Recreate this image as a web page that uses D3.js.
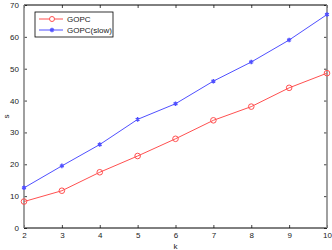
<!DOCTYPE html>
<html>
<head>
<meta charset="utf-8">
<script src="https://cdn.jsdelivr.net/npm/d3@7"></script>
<style>
  body { margin: 0; background: #fff; }
  text { font-family: "Liberation Sans", Arial, sans-serif; }
</style>
</head>
<body>
<div id="chart"></div>
<script>
// data
var kValues = [2, 3, 4, 5, 6, 7, 8, 9, 10];
var gopc = [8.3, 11.7, 17.5, 22.6, 28.0, 33.8, 38.1, 44.0, 48.6];
var gopcSlow = [12.6, 19.5, 26.2, 34.1, 39.0, 46.1, 52.1, 59.0, 67.0];
var xTicks = [2, 3, 4, 5, 6, 7, 8, 9, 10];
var yTicks = [0, 10, 20, 30, 40, 50, 60, 70];

var svgWidth = 332;
var svgHeight = 250;
var margin = {top: 5, right: 5, bottom: 22, left: 24};
var width = svgWidth - margin.left - margin.right;
var height = svgHeight - margin.top - margin.bottom;

var svg = d3.select("#chart")
  .append("svg")
  .attr("width", svgWidth)
  .attr("height", svgHeight);

var chartGroup = svg.append("g")
  .attr("transform", `translate(${margin.left}, ${margin.top})`);

var xScale = d3.scaleLinear().domain([2, 10]).range([0, width]);
var yScale = d3.scaleLinear().domain([0, 70]).range([height, 0]);

// axes with inward ticks
function styleAxis(g) {
  g.select(".domain").remove();
  g.selectAll("line").attr("stroke", "#444");
  g.selectAll("text").attr("font-size", "8px").attr("fill", "#222");
}

chartGroup.append("g")
  .attr("transform", `translate(0, ${height})`)
  .call(d3.axisBottom(xScale).tickValues(xTicks).tickSize(-3).tickPadding(4))
  .call(styleAxis);

chartGroup.append("g")
  .call(d3.axisTop(xScale).tickValues(xTicks).tickSize(-3).tickFormat(""))
  .call(styleAxis);

chartGroup.append("g")
  .call(d3.axisLeft(yScale).tickValues(yTicks).tickSize(-3).tickPadding(5))
  .call(styleAxis);

chartGroup.append("g")
  .attr("transform", `translate(${width}, 0)`)
  .call(d3.axisRight(yScale).tickValues(yTicks).tickSize(-3).tickFormat(""))
  .call(styleAxis);

// box
chartGroup.append("line").attr("x1", 0).attr("x2", width).attr("y1", 0).attr("y2", 0)
  .attr("stroke", "#000").attr("stroke-width", 1);
chartGroup.append("line").attr("x1", 0).attr("x2", width).attr("y1", height).attr("y2", height)
  .attr("stroke", "#000").attr("stroke-width", 1);
chartGroup.append("line").attr("x1", 0).attr("x2", 0).attr("y1", 0).attr("y2", height)
  .attr("stroke", "#888").attr("stroke-width", 1.6);
chartGroup.append("line").attr("x1", width).attr("x2", width).attr("y1", 0).attr("y2", height)
  .attr("stroke", "#888").attr("stroke-width", 1.6);

var redColor = "#ff5050";
var blueColor = "#5050ff";

var line = d3.line()
  .x(function(d, i) { return xScale(kValues[i]); })
  .y(function(d) { return yScale(d); });

// red series
chartGroup.append("path")
  .datum(gopc)
  .attr("d", line)
  .attr("fill", "none")
  .attr("stroke", redColor)
  .attr("stroke-width", 1);

chartGroup.selectAll(".red-mark")
  .data(gopc)
  .enter()
  .append("circle")
  .attr("class", "red-mark")
  .attr("cx", function(d, i) { return xScale(kValues[i]); })
  .attr("cy", function(d) { return yScale(d); })
  .attr("r", 2.8)
  .attr("fill", "none")
  .attr("stroke", redColor)
  .attr("stroke-width", 1);

// blue series
chartGroup.append("path")
  .datum(gopcSlow)
  .attr("d", line)
  .attr("fill", "none")
  .attr("stroke", blueColor)
  .attr("stroke-width", 1);

var star = d3.symbol().type(d3.symbolAsterisk).size(14);

chartGroup.selectAll(".blue-mark")
  .data(gopcSlow)
  .enter()
  .append("path")
  .attr("class", "blue-mark")
  .attr("transform", function(d, i) { return `translate(${xScale(kValues[i])}, ${yScale(d)})`; })
  .attr("d", star)
  .attr("fill", "none")
  .attr("stroke", blueColor)
  .attr("stroke-width", 1.4);

// legend
var legend = svg.append("g").attr("transform", "translate(35, 12)");
legend.append("rect")
  .attr("x", 0).attr("y", 0).attr("width", 78).attr("height", 25)
  .attr("fill", "#fff").attr("stroke", "#000").attr("stroke-width", 0.8);

legend.append("line").attr("x1", 4).attr("x2", 28).attr("y1", 7).attr("y2", 7)
  .attr("stroke", redColor);
legend.append("circle").attr("cx", 17).attr("cy", 7).attr("r", 2.5)
  .attr("fill", "#fff").attr("stroke", redColor);
legend.append("text").attr("x", 32).attr("y", 10).attr("font-size", "8px").attr("fill", "#222")
  .text("GOPC");

legend.append("line").attr("x1", 4).attr("x2", 28).attr("y1", 18).attr("y2", 18)
  .attr("stroke", blueColor);
legend.append("path").attr("transform", "translate(17, 18)").attr("d", star)
  .attr("fill", "none").attr("stroke", blueColor).attr("stroke-width", 1.4);
legend.append("text").attr("x", 32).attr("y", 21).attr("font-size", "8px").attr("fill", "#222")
  .text("GOPC(slow)");

// axis labels
svg.append("text")
  .attr("x", margin.left + width / 2)
  .attr("y", 248.5)
  .attr("text-anchor", "middle")
  .attr("font-size", "8px")
  .attr("fill", "#222")
  .text("k");

svg.append("text")
  .attr("transform", `translate(9, ${margin.top + height / 2}) rotate(-90)`)
  .attr("text-anchor", "middle")
  .attr("font-size", "8px")
  .attr("fill", "#222")
  .text("s");
</script>
</body>
</html>
